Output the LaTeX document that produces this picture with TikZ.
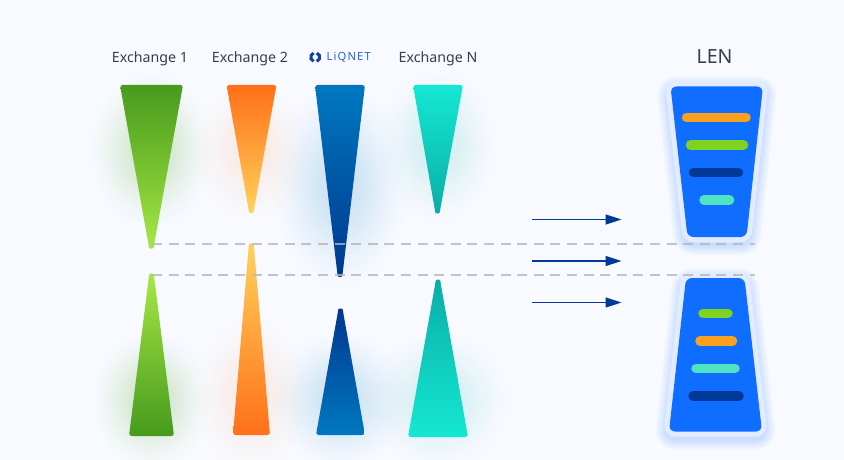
\documentclass[tikz,border=0pt]{standalone}
\usepackage{fontspec}
\setmainfont{Noto Sans}
\usetikzlibrary{arrows.meta, fadings}

\definecolor{pageBg}{HTML}{F8FAFF}
\definecolor{labelInk}{HTML}{3A3D42}
\definecolor{greenDark}{HTML}{479A1C}
\definecolor{greenLight}{HTML}{A6E845}
\definecolor{orangeDark}{HTML}{FF7018}
\definecolor{orangeLight}{HTML}{FFD25C}
\definecolor{blueLight}{HTML}{0078C0}
\definecolor{blueDark}{HTML}{00378F}
\definecolor{tealLight}{HTML}{14E8D2}
\definecolor{tealDark}{HTML}{0AADA8}
\definecolor{lenBlue}{HTML}{0F6EFF}
\definecolor{lenHalo}{HTML}{E3ECFF}
\definecolor{barOrange}{HTML}{F9A11E}
\definecolor{barGreen}{HTML}{7ED321}
\definecolor{barNavy}{HTML}{003A96}
\definecolor{barTeal}{HTML}{50E3C2}
\definecolor{logoBlue}{HTML}{1F66E0}
\definecolor{logoDark}{HTML}{0F3FA8}
\definecolor{cutGray}{HTML}{B4B7BC}

\pgfdeclareradialshading{softglow}{\pgfpointorigin}{
  color(0bp)=(transparent!72); color(6bp)=(transparent!75); color(11bp)=(transparent!82);
  color(16bp)=(transparent!90); color(21bp)=(transparent!97); color(25bp)=(transparent!100);
  color(50bp)=(transparent!100)}
\pgfdeclarefading{glowfade}{\pgfuseshading{softglow}}

% left, right, base y, tip x, shoulder y, tip control y
\newcommand{\wedgepath}[6]{(#1,#3) -- (#2,#3) -- ({#4+2.7},#5) .. controls ({#4+2.2},#6) and ({#4-2.2},#6) .. ({#4-2.7},#5) -- cycle}

\begin{document}
\begin{tikzpicture}[
  x=1pt, y=-1pt,
  exlabel/.style={font=\fontsize{14.2}{16}\selectfont, text=labelInk, inner sep=0pt},
  wedge/.style={rounded corners=2.6pt},
  glow/.style={path fading=glowfade, fit fading=true},
  lenbody/.style={fill=lenBlue, rounded corners=6pt},
  lenring/.style={draw=lenHalo, fill=lenHalo, line width=10pt, line join=round, rounded corners=6pt},
  lenglow/.style={draw=lenBlue, opacity=.028, yshift=-4pt, line join=round, rounded corners=6pt},
  bar/.style={line width=9.5pt, line cap=round},
  cutline/.style={draw=cutGray, line width=1.2pt, dash pattern=on 10pt off 6.6pt, opacity=.8},
  flowarrow/.style={draw=barNavy, line width=1.5pt, -{Triangle[length=16pt, width=10pt]}}
]

\useasboundingbox (0,0) rectangle (844,460);
\fill[pageBg] (0,0) rectangle (844,460);

% Labels on top
\node[exlabel] (ex1) at (150,58.5) {Exchange 1};
\node[exlabel] (ex2) at (250,58.5) {Exchange 2};
\node[exlabel] (exN) at (438,58.5) {Exchange N};
\node[font=\fontsize{19.5}{22}\selectfont, text=labelInk, inner sep=0pt] (len) at (714.5,57) {LEN};
\node[font=\fontsize{11.2}{12}\selectfont\bfseries, text=logoBlue, inner sep=0pt] (liqnet) at (348.7,57.5) {\addfontfeature{LetterSpace=10}LiQNET};

% Logo mark
\draw[logoDark, line width=3pt] (313.6,53.06) arc[start angle=-110, end angle=-250, radius=4.4];
\draw[logoDark, line width=3pt] (316.8,53.06) arc[start angle=-70, end angle=70, radius=4.4];

% Soft glows behind the wedges
\fill[greenDark, glow, opacity=.8] (151,150) ellipse[x radius=62, y radius=80];
\fill[orangeDark, glow, opacity=.4] (251,150) ellipse[x radius=58, y radius=72];
\fill[blueLight, glow, opacity=.65] (340,185) ellipse[x radius=68, y radius=105];
\fill[tealDark, glow, opacity=.55] (437,145) ellipse[x radius=60, y radius=78];
\fill[greenDark, glow, opacity=.8] (151,400) ellipse[x radius=60, y radius=70];
\fill[orangeDark, glow, opacity=.4] (251,395) ellipse[x radius=58, y radius=80];
\fill[blueLight, glow, opacity=.65] (340,400) ellipse[x radius=68, y radius=70];
\fill[tealDark, glow, opacity=.55] (438,400) ellipse[x radius=72, y radius=70];

% Upper wedges
\shade[wedge, top color=greenDark, bottom color=greenLight] \wedgepath{120}{183}{85}{151.3}{245}{249};
\shade[wedge, top color=orangeDark, bottom color=orangeLight] \wedgepath{226.5}{276.5}{85}{251.3}{209}{213.5};
\shade[wedge, top color=blueLight, bottom color=blueDark] \wedgepath{315}{365}{85}{340}{273}{277.5};
\shade[wedge, top color=tealLight, bottom color=tealDark] \wedgepath{413}{463}{85}{437.5}{209.5}{214};

% Lower wedges
\shade[wedge, top color=greenLight, bottom color=greenDark] \wedgepath{129}{174}{436}{151.5}{277.5}{273};
\shade[wedge, top color=orangeLight, bottom color=orangeDark] \wedgepath{233}{270}{435}{251.3}{247.5}{243};
\shade[wedge, top color=blueDark, bottom color=blueLight] \wedgepath{316}{365}{435}{340.5}{312.5}{308};
\shade[wedge, top color=tealDark, bottom color=tealLight] \wedgepath{408}{468}{437}{438}{283.5}{279};

% LEN glows
\foreach \w in {10,13,16,19,22,25,28}{
  \draw[lenglow, line width=\w pt] (670.5,86.5) -- (763,86.5) -- (746.5,237) -- (687.5,237) -- cycle;
  \draw[lenglow, line width=\w pt] (686,278) -- (744.5,278) -- (762,431.5) -- (669,431.5) -- cycle;
}

% LEN upper
\draw[lenring] (670.5,86.5) -- (763,86.5) -- (746.5,237) -- (687.5,237) -- cycle;
\path[lenbody] (670.5,86.5) -- (763,86.5) -- (746.5,237) -- (687.5,237) -- cycle;
\draw[bar, barOrange] (686.5,117.5) -- (746,117.5);
\draw[bar, barGreen] (690.5,145) -- (743.5,145);
\draw[bar, barNavy] (693.5,172.5) -- (738.5,172.5);
\draw[bar, barTeal] (704,200) -- (729.5,200);

% LEN lower
\draw[lenring] (686,278) -- (744.5,278) -- (762,431.5) -- (669,431.5) -- cycle;
\path[lenbody] (686,278) -- (744.5,278) -- (762,431.5) -- (669,431.5) -- cycle;
\draw[bar, barGreen] (703,313.5) -- (728,313.5);
\draw[bar, barOrange] (700,341) -- (732.5,341);
\draw[bar, barTeal] (696,368.5) -- (735,368.5);
\draw[bar, barNavy] (693,396) -- (739,396);

% Cut lines
\coordinate (cutAa) at (152,244);
\coordinate (cutAb) at (755,244);
\coordinate (cutBa) at (152,275);
\coordinate (cutBb) at (755,275);
\draw[cutline] (cutAa) -- (cutAb);
\draw[cutline] (cutBa) -- (cutBb);

% Arrows
\coordinate (flow1a) at (532,219.5);
\coordinate (flow1b) at (621.5,219.5);
\coordinate (flow2a) at (532,261);
\coordinate (flow2b) at (621.5,261);
\coordinate (flow3a) at (532,302.5);
\coordinate (flow3b) at (621.5,302.5);
\draw[flowarrow] (flow1a) -- (flow1b);
\draw[flowarrow] (flow2a) -- (flow2b);
\draw[flowarrow] (flow3a) -- (flow3b);

\end{tikzpicture}
\end{document}
